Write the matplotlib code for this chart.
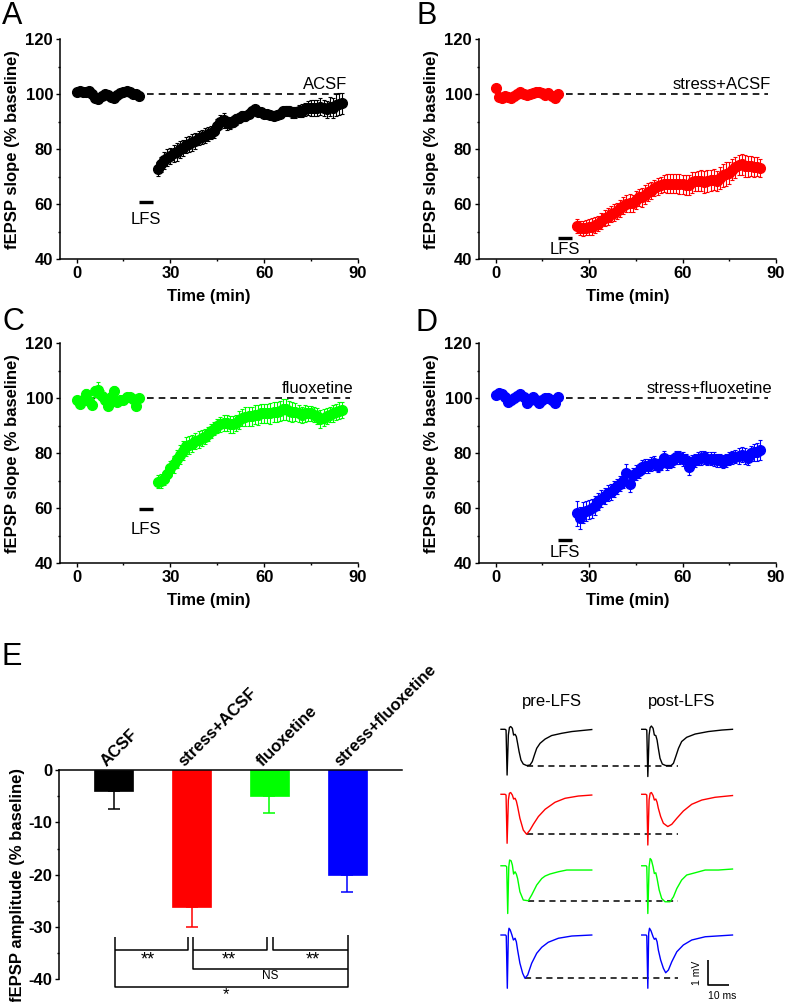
import matplotlib.pyplot as plt
from matplotlib.ticker import MultipleLocator

plt.rcParams['font.family'] = ['Liberation Sans', 'DejaVu Sans']
plt.rcParams['axes.unicode_minus'] = False

# time points (min)
t_base = list(range(0, 21))
t_post = list(range(26, 86))

# ---- A: ACSF
acsf_base = [101.0, 101.2, 100.8, 101.0, 101.3, 100.0, 98.5, 98.2, 99.5, 100.0, 99.8,
             99.0, 98.8, 99.8, 100.5, 101.0, 101.2, 100.8, 100.2, 100.0, 99.5]
acsf_base_err = [0.8, 0.7, 0.9, 0.8, 0.7, 1.0, 1.2, 1.3, 1.0, 0.9, 0.8,
                 1.0, 1.1, 0.9, 0.8, 0.7, 0.8, 0.9, 0.8, 0.7, 0.8]
acsf_post = [72.8, 74.5, 76.0, 77.0, 77.5, 78.5, 79.0, 80.0, 80.5, 81.5,
             82.0, 82.5, 83.0, 84.0, 84.5, 85.0, 85.5, 86.0, 86.5, 88.5,
             90.0, 90.5, 89.5, 89.5, 90.0, 91.0, 91.5, 92.0, 92.0, 93.0,
             94.0, 94.5, 93.5, 93.5, 93.0, 93.0, 92.5, 92.0, 92.5, 93.0,
             94.0, 94.0, 94.0, 93.5, 93.5, 94.0, 94.0, 94.5, 95.0, 95.0,
             95.0, 95.0, 95.5, 95.0, 94.5, 95.5, 95.0, 96.0, 96.5, 96.7]
acsf_post_err = [2.5, 2.8, 3.0, 3.0, 2.8, 3.0, 3.2, 3.0, 2.8, 3.0,
                 3.0, 3.0, 2.8, 2.6, 2.5, 2.6, 2.5, 2.4, 2.5, 2.6,
                 2.5, 2.8, 2.4, 2.2, 2.0, 2.0, 1.8, 1.8, 1.6, 1.5,
                 1.5, 1.4, 1.5, 1.4, 1.3, 1.3, 1.2, 1.2, 1.3, 1.4,
                 1.5, 1.6, 1.8, 2.0, 2.0, 2.2, 2.4, 2.5, 2.6, 2.8,
                 3.0, 3.0, 3.2, 3.0, 3.2, 3.4, 3.5, 4.0, 4.0, 3.8]

# ---- B: stress+ACSF
sacsf_base = [102.2, 99.0, 98.8, 99.2, 99.0, 98.5, 99.2, 100.0, 100.8, 100.2, 99.7,
              100.0, 100.5, 100.7, 101.0, 100.5, 99.8, 100.4, 99.5, 98.5, 100.1]
sacsf_base_err = [0.7, 0.8, 0.8, 0.7, 0.8, 0.9, 0.8, 0.7, 0.8, 0.8, 0.7,
                  0.8, 0.7, 0.8, 0.9, 0.8, 0.8, 0.7, 0.8, 0.9, 0.8]
sacsf_post = [52.2, 51.5, 51.3, 51.5, 51.8, 51.9, 52.5, 53.0, 54.0, 55.0,
              55.5, 56.5, 57.0, 57.5, 58.5, 59.5, 60.2, 60.5, 60.3, 61.5,
              62.5, 62.5, 63.5, 64.5, 65.0, 66.0, 66.5, 67.0, 67.5, 67.5,
              67.5, 67.5, 67.5, 67.5, 67.2, 67.0, 67.0, 68.0, 68.3, 68.5,
              68.5, 68.0, 68.5, 68.8, 69.0, 68.5, 69.5, 70.5, 71.0, 71.5,
              72.5, 73.5, 74.3, 74.5, 74.0, 73.8, 74.0, 73.5, 73.7, 73.1]
sacsf_post_err = [2.5, 2.6, 2.8, 2.8, 3.0, 3.0, 2.8, 2.8, 3.0, 3.0,
                  3.0, 3.0, 3.0, 3.0, 3.0, 3.0, 3.0, 3.2, 3.0, 3.2,
                  3.2, 3.4, 3.4, 3.3, 3.2, 3.0, 3.0, 3.0, 3.2, 3.4,
                  3.5, 3.5, 3.5, 3.6, 3.6, 3.8, 3.8, 3.8, 3.6, 3.6,
                  3.8, 4.0, 4.0, 3.8, 3.8, 3.6, 4.0, 4.2, 4.5, 4.0,
                  3.8, 3.8, 3.6, 3.8, 4.0, 3.8, 3.6, 3.6, 3.5, 3.2]

# ---- C: fluoxetine
flx_base = [99.5, 97.8, 99.5, 101.5, 99.0, 97.6, 102.5, 103.0, 101.0, 99.5, 97.2,
            100.5, 102.8, 98.8, 99.5, 99.5, 100.6, 100.5, 99.8, 97.2, 100.2]
flx_base_err = [1.0, 1.2, 1.5, 1.8, 1.5, 1.2, 2.0, 3.0, 2.0, 1.5, 1.2,
                1.5, 1.8, 1.2, 1.0, 1.0, 1.2, 1.0, 1.0, 1.2, 1.0]
flx_post = [69.7, 70.0, 70.8, 72.5, 74.5, 76.0, 78.0, 79.5, 81.0, 82.5,
            83.0, 83.5, 84.5, 85.0, 85.5, 86.0, 87.0, 88.0, 89.0, 90.0,
            90.5, 91.0, 91.0, 90.5, 90.5, 91.0, 92.0, 93.0, 93.3, 93.5,
            93.5, 94.0, 94.0, 94.5, 94.5, 94.5, 94.5, 95.0, 95.0, 95.5,
            96.0, 96.0, 95.5, 95.0, 95.0, 94.5, 94.0, 94.5, 94.5, 94.5,
            94.0, 93.5, 92.5, 93.0, 93.5, 94.0, 94.5, 95.0, 95.5, 95.7]
flx_post_err = [2.5, 2.6, 2.5, 2.6, 2.8, 3.0, 3.2, 3.5, 3.5, 3.4,
                3.2, 3.0, 3.0, 3.0, 2.8, 2.8, 2.6, 2.6, 2.5, 2.5,
                2.6, 2.8, 2.8, 3.0, 3.0, 3.0, 3.2, 3.2, 3.4, 3.4,
                3.5, 3.5, 3.6, 3.6, 3.5, 3.6, 3.8, 3.8, 3.6, 3.6,
                3.8, 3.8, 3.6, 3.5, 3.4, 3.2, 3.0, 3.0, 2.8, 2.8,
                2.8, 3.0, 3.2, 3.0, 2.8, 2.8, 3.0, 3.0, 3.0, 2.8]

# ---- D: stress+fluoxetine
sflx_base = [101.2, 101.8, 101.5, 100.6, 98.8, 99.5, 100.0, 101.0, 101.6, 100.5, 98.4,
             99.5, 100.6, 99.5, 98.4, 99.5, 100.0, 100.2, 99.4, 98.2, 100.6]
sflx_base_err = [0.7, 0.8, 0.7, 0.8, 0.9, 0.8, 0.7, 0.8, 0.7, 0.8, 0.9,
                 0.8, 0.7, 0.8, 0.9, 0.8, 0.7, 0.8, 0.8, 0.9, 0.8]
sflx_post = [58.2, 56.5, 58.5, 59.0, 59.5, 60.0, 61.0, 62.5, 63.5, 64.5,
             65.5, 66.0, 67.0, 68.0, 69.0, 70.0, 73.0, 69.0, 72.0, 73.0,
             73.5, 75.0, 75.5, 75.5, 76.0, 76.5, 75.5, 76.5, 78.2, 76.5,
             77.0, 77.5, 78.5, 78.5, 78.0, 77.5, 75.0, 77.0, 77.5, 78.0,
             78.2, 78.5, 78.0, 78.0, 77.8, 77.5, 77.5, 77.0, 77.5, 78.0,
             78.5, 78.8, 79.0, 79.5, 79.0, 78.3, 80.0, 80.3, 80.5, 81.2]
sflx_post_err = [4.5, 4.0, 3.8, 3.6, 3.5, 3.5, 3.4, 3.2, 3.2, 3.0,
                 3.0, 3.0, 3.0, 2.8, 2.8, 2.8, 3.0, 3.0, 2.8, 2.8,
                 2.6, 2.6, 2.5, 2.5, 2.5, 2.5, 2.4, 2.5, 2.8, 2.5,
                 2.4, 2.4, 2.4, 2.5, 2.5, 2.4, 2.8, 2.5, 2.4, 2.4,
                 2.5, 2.4, 2.4, 2.4, 2.5, 2.4, 2.4, 2.4, 2.4, 2.4,
                 2.5, 2.5, 2.8, 2.8, 2.8, 2.6, 2.8, 3.0, 3.2, 3.5]

# ---- E: bar chart
groups = ['ACSF', 'stress+ACSF', 'fluoxetine', 'stress+fluoxetine']
amp = [-4.0, -26.2, -5.0, -20.1]
amp_err = [3.4, 3.9, 3.1, 3.2]
colors = ['#000000', '#ff0000', '#00ff00', '#0000ff']

# ---- example traces (ms, mV)
pre_t_k = [0, 1.9, 2.4, 2.9, 3.5, 4.0, 4.6, 5.4, 6.0, 6.7, 7.3, 7.9, 8.6, 9.5, 10.6, 12.2,
           13.8, 14.9, 15.9, 17.0, 18.6, 21.0, 24.1, 28.9, 33.7, 38.4, 43.2]
pre_v_k = [0, 0, -0.03, -1.83, -0.23, 0.07, 0.11, 0.04, -0.23, -0.2, -0.29, -0.56, -0.89,
           -1.23, -1.39, -1.45, -1.43, -1.29, -1.03, -0.76, -0.56, -0.39, -0.25, -0.16,
           -0.09, -0.05, -0.01]
post_t_k = [0, 1.9, 2.4, 2.9, 3.5, 4.0, 4.6, 5.4, 6.0, 6.7, 7.3, 7.9, 8.7, 9.8, 11.4, 14.0,
            15.1, 16.2, 17.5, 19.0, 21.4, 25.4, 31.7, 38.1, 43.2]
post_v_k = [0, 0, -0.03, -1.89, -0.23, 0.07, 0.13, 0.04, -0.23, -0.25, -0.43, -0.76, -1.16,
            -1.39, -1.45, -1.45, -1.36, -1.09, -0.76, -0.49, -0.32, -0.19, -0.09, -0.03, 0]
pre_t_r = [0, 1.9, 2.4, 2.9, 3.5, 4.0, 4.6, 5.4, 6.0, 6.7, 7.3, 7.9, 9.0, 10.6, 12.2, 13.8,
           15.4, 17.8, 21.0, 25.7, 30.5, 36.8, 43.2]
pre_v_r = [0, 0, -0.03, -1.96, -0.23, 0.04, 0.07, -0.03, -0.19, -0.16, -0.27, -0.49, -0.96,
           -1.43, -1.6, -1.43, -1.2, -0.89, -0.6, -0.32, -0.16, -0.07, -0.03]
post_t_r = [0, 1.9, 2.4, 2.9, 3.5, 4.0, 4.6, 5.4, 6.0, 6.7, 7.3, 7.9, 9.0, 10.3, 12.4, 14.3,
            16.7, 19.8, 23.8, 28.6, 34.9, 43.2]
post_v_r = [0, 0, -0.03, -2.03, -0.23, 0.04, 0.07, -0.05, -0.23, -0.19, -0.32, -0.56, -0.89,
            -1.16, -1.29, -1.2, -0.96, -0.67, -0.4, -0.23, -0.12, -0.05]
pre_t_g = [0, 2.2, 2.7, 3.2, 3.7, 4.1, 4.8, 5.4, 6.0, 6.7, 7.3, 7.9, 9.0, 10.6, 13.0, 14.6,
           17.0, 19.4, 21.0, 23.3, 27.3, 31.3, 36.8, 43.2]
pre_v_g = [0, 0, -0.04, -1.91, -0.04, 0.23, 0.2, 0.03, -0.33, -0.24, -0.33, -0.51, -1.04,
           -1.37, -1.4, -1.17, -0.77, -0.51, -0.41, -0.33, -0.24, -0.17, -0.17, -0.17]
post_t_g = [0, 2.1, 2.4, 2.9, 3.5, 4.0, 4.6, 5.4, 6.0, 6.7, 7.3, 8.3, 9.5, 11.1, 13.5, 15.1,
            16.7, 19.0, 21.4, 25.4, 30.2, 36.5, 43.2]
post_v_g = [0, 0, -0.04, -1.91, -0.04, 0.29, 0.23, -0.04, -0.31, -0.28, -0.51, -0.97, -1.31,
            -1.44, -1.44, -1.24, -0.91, -0.57, -0.37, -0.28, -0.17, -0.17, -0.13]
pre_t_b = [0, 2.2, 2.5, 3.0, 3.5, 3.8, 4.4, 5.2, 5.9, 6.7, 7.3, 7.9, 9.0, 10.3, 11.4, 12.7,
           14.6, 17.0, 19.4, 22.5, 27.3, 33.7, 43.2]
pre_v_b = [0, 0, -0.04, -2.13, 0.07, 0.27, 0.2, 0, -0.2, -0.13, -0.27, -0.6, -1.13, -1.53,
           -1.73, -1.6, -1.13, -0.73, -0.49, -0.29, -0.13, -0.04, 0]
post_t_b = [0, 2.1, 2.4, 2.9, 3.3, 3.7, 4.4, 5.4, 6.0, 6.7, 7.3, 7.9, 9.0, 10.3, 11.4, 12.7,
            14.3, 16.7, 19.8, 23.8, 30.2, 43.2]
post_v_b = [0, 0, -0.04, -2.13, 0.07, 0.27, 0.17, -0.07, -0.17, -0.13, -0.27, -0.6, -1.0,
            -1.33, -1.51, -1.4, -1.07, -0.67, -0.4, -0.2, -0.07, 0]

W, H = 787, 1002
fig = plt.figure(figsize=(W / 100, H / 100), dpi=100)


def box(l, t, r, b):
    return [l / W, 1 - b / H, (r - l) / W, (b - t) / H]


def style(ax):
    for s in ['top', 'right']:
        ax.spines[s].set_visible(False)
    for s in ['left', 'bottom']:
        ax.spines[s].set_linewidth(1.1)
    ax.tick_params(which='major', length=3, width=1, labelsize=12, pad=2)
    ax.tick_params(which='minor', length=1.6, width=1)
    for lab in ax.get_xticklabels() + ax.get_yticklabels():
        lab.set_fontweight('bold')


def panel_letter(x, top, letter):
    fig.text(x / W, 1 - top / H, letter, fontsize=22, ha='center', va='top')


def ltp_panel(rect, base, base_err, post, post_err, color, name, name_x, dash_end,
              lfs_y, lfs_text_y):
    ax = fig.add_axes(rect)
    ax.plot([0, dash_end], [100, 100], color='black', lw=1.2, dashes=(4, 3), zorder=1)
    for tt, yy, ee in [(t_base, base, base_err), (t_post, post, post_err)]:
        ax.errorbar(tt, yy, yerr=ee, fmt='o', color=color, ms=7, mec=color,
                    elinewidth=0.8, capsize=1.5, capthick=0.8, zorder=3)
    ax.plot([20, 24.5], [lfs_y, lfs_y], color='black', lw=2.4, solid_capstyle='butt')
    ax.text(22.2, lfs_text_y, 'LFS', fontsize=12, ha='center', va='center')
    ax.text(name_x, 100.8, name, fontsize=12, ha='right', va='bottom')
    ax.set_xlim(-5.3, 90)
    ax.set_ylim(40, 120)
    ax.set_xticks([0, 30, 60, 90])
    ax.set_yticks([40, 60, 80, 100, 120])
    ax.xaxis.set_minor_locator(MultipleLocator(15))
    ax.yaxis.set_minor_locator(MultipleLocator(10))
    ax.set_xlabel('Time (min)', fontsize=12, fontweight='bold', labelpad=5.5)
    ax.set_ylabel('fEPSP slope (% baseline)', fontsize=12, fontweight='bold', labelpad=4)
    style(ax)
    return ax


ltp_panel(box(60, 39.3, 358, 259.3), acsf_base, acsf_base_err, acsf_post, acsf_post_err,
          'black', 'ACSF', 86.5, 86, 60.7, 54.3)
ltp_panel(box(479, 39.3, 776, 259.3), sacsf_base, sacsf_base_err, sacsf_post, sacsf_post_err,
          '#ff0000', 'stress+ACSF', 88.5, 87.5, 47.6, 43.4)
ltp_panel(box(60, 343.3, 358, 563.3), flx_base, flx_base_err, flx_post, flx_post_err,
          '#00ff00', 'fluoxetine', 88.4, 87.5, 59.6, 52.3)
ltp_panel(box(479, 343.3, 776, 563.3), sflx_base, sflx_base_err, sflx_post, sflx_post_err,
          '#0000ff', 'stress+fluoxetine', 88.8, 87.5, 48.5, 44.0)
panel_letter(12, 0.5, 'A')
panel_letter(427, 0.5, 'B')
panel_letter(13, 307, 'C')
panel_letter(427, 308, 'D')
panel_letter(12, 642, 'E')

# ---- panel E bars
axE = fig.add_axes(box(59, 770.3, 402, 979))
xpos = [1, 2, 3, 4]
axE.bar(xpos, amp, width=0.5, color=colors, edgecolor=colors, linewidth=0.5, zorder=2)
for x, y, e, c in zip(xpos, amp, amp_err, colors):
    axE.errorbar([x], [y], yerr=[[e], [0]], fmt='none', ecolor=c, elinewidth=1.1,
                 capsize=4.2, capthick=1.1, zorder=1)
for x, g in zip(xpos, groups):
    axE.text(x - 0.085, 0.7, g, rotation=45, rotation_mode='anchor', ha='left',
             va='baseline', fontsize=12, fontweight='bold')
axE.set_xlim(0.3, 4.7)
axE.set_ylim(-40, 0)
axE.set_yticks([0, -10, -20, -30, -40])
axE.yaxis.set_minor_locator(MultipleLocator(5))
axE.set_xticks([])
axE.spines['bottom'].set_position(('data', 0))
axE.set_ylabel('fEPSP amplitude (% baseline)', fontsize=12, fontweight='bold')
style(axE)
axE.yaxis.set_label_coords(-0.1, 0.45)

# significance brackets
bk = dict(color='black', lw=1.1, clip_on=False, solid_capstyle='butt')
axE.plot([1.02, 1.02, 4.01, 4.01], [-31.9, -41.5, -41.5, -31.6], **bk)
axE.plot([1.02, 1.95, 1.95], [-34.4, -34.4, -31.9], **bk)
axE.plot([2.02, 2.02, 4.01], [-31.9, -38.0, -38.0], **bk)
axE.plot([2.02, 2.97, 2.97], [-34.4, -34.4, -31.9], **bk)
axE.plot([3.04, 3.04, 4.01], [-31.9, -34.4, -34.4], **bk)
for x in [1.44, 2.48, 3.55]:
    axE.text(x, -36.4, '**', fontsize=13, ha='center', va='center')
axE.text(3.01, -39.5, 'NS', fontsize=8.5, ha='center', va='center')
axE.text(2.44, -42.9, '*', fontsize=12, ha='center', va='center')

# ---- example traces
axT = fig.add_axes(box(490, 715, 760, 1000))
axT.set_xlim(-5.24, 123.3)
axT.set_ylim(-10.83, 0.572)
axT.axis('off')
post_shift = 67
rows = [(pre_t_k, pre_v_k, post_t_k, post_v_k, 'black', 0.0),
        (pre_t_r, pre_v_r, post_t_r, post_v_r, '#ff0000', -2.6),
        (pre_t_g, pre_v_g, post_t_g, post_v_g, '#00ff00', -5.46),
        (pre_t_b, pre_v_b, post_t_b, post_v_b, '#0000ff', -8.23)]
for pt, pv, qt, qv, c, off in rows:
    axT.plot(pt, [v + off for v in pv], color=c, lw=1.0)
    axT.plot([t + post_shift for t in qt], [v + off for v in qv], color=c, lw=1.0)
    i_min = pv.index(min(pv[4:]))
    axT.plot([pt[i_min], 84.4], [pv[i_min] + off] * 2, color='black', lw=1.1,
             dashes=(4, 3), zorder=0)
# scale bar
axT.plot([98.7, 98.7, 108.7], [-9.23, -10.23, -10.23], color='black', lw=1.2,
         solid_capstyle='butt', clip_on=False)
axT.text(93.2, -9.75, '1 mV', rotation=90, fontsize=7.5, ha='center', va='center')
axT.text(105.4, -10.66, '10 ms', fontsize=7.5, ha='center', va='center')
fig.text(552 / W, 1 - 701.7 / H, 'pre-LFS', fontsize=12, ha='center', va='center')
fig.text(682 / W, 1 - 701.7 / H, 'post-LFS', fontsize=12, ha='center', va='center')

fig.savefig('out.png', dpi=100)
